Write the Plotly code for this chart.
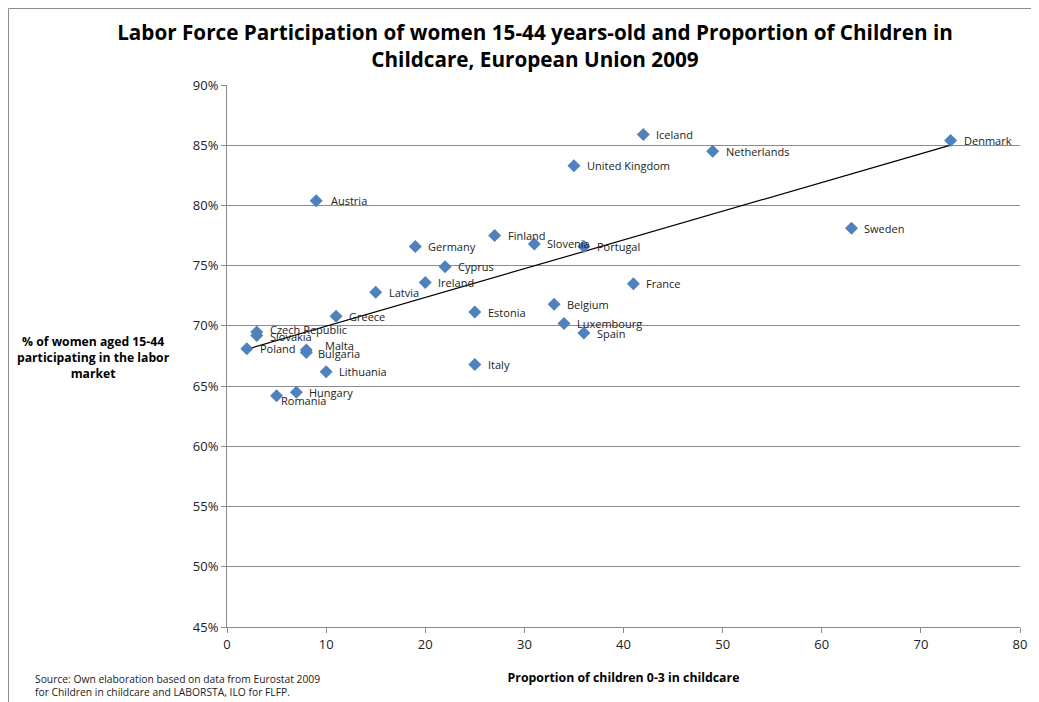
import numpy as np
import plotly.graph_objects as go

countries = ["Denmark", "Iceland", "Netherlands", "United Kingdom", "Austria", "Sweden",
             "Finland", "Germany", "Slovenia", "Portugal", "Cyprus", "Ireland", "France",
             "Latvia", "Belgium", "Estonia", "Greece", "Luxembourg", "Czech Republic",
             "Slovakia", "Spain", "Poland", "Malta", "Bulgaria", "Italy", "Lithuania",
             "Hungary", "Romania"]
childcare = [73, 42, 49, 35, 9, 63, 27, 19, 31, 36, 22, 20, 41, 15, 33, 25, 11, 34, 3, 3, 36,
             2, 8, 8, 25, 10, 7, 5]
lfp = [85.4, 85.9, 84.5, 83.3, 80.4, 78.1, 77.5, 76.6, 76.8, 76.6, 74.9, 73.6, 73.5, 72.8,
       71.8, 71.15, 70.8, 70.2, 69.5, 69.2, 69.4, 68.1, 68.0, 67.8, 66.8, 66.2, 64.5, 64.2]

y_ticks = [45, 50, 55, 60, 65, 70, 75, 80, 85, 90]
x_ticks = [0, 10, 20, 30, 40, 50, 60, 70, 80]

# label offsets (px) as style
label_shift = {"Malta": (19, 4), "Bulgaria": (12, -1), "Czech Republic": (13, 2),
               "Slovakia": (13, -1), "Romania": (4, -5), "Austria": (15, 0)}

OFF = 8  # page body margin
W, H = 1039, 702
# target plot area on screen: x 227..1020, y 85..627
L = 227 - OFF
T = 85 - OFF
R = W - (1020 - OFF)
B = H - (627 - OFF)
PW = W - L - R
PH = H - T - B
FONT = "Open Sans"


def px(p):
    return (p - OFF - L) / PW


def py(p):
    return (H - B - (p - OFF)) / PH


fig = go.Figure()

# trendline (linear least squares over the data)
xa = np.array(childcare, dtype=float)
ya = np.array(lfp, dtype=float)
slope, intercept = np.polyfit(xa, ya, 1)
xt = np.array([xa.min(), xa.max()])
fig.add_trace(go.Scatter(x=xt, y=slope * xt + intercept, mode="lines",
                         line=dict(color="black", width=1.2), hoverinfo="skip",
                         showlegend=False))

fig.add_trace(go.Scatter(x=childcare, y=lfp, mode="markers", text=countries,
                         marker=dict(symbol="diamond", size=10, color="#4F81BD",
                                     line=dict(width=0)),
                         showlegend=False))

for name, xv, yv in zip(countries, childcare, lfp):
    dx, dy = label_shift.get(name, (13, 0))
    fig.add_annotation(x=xv, y=yv, text=name, showarrow=False, xanchor="left",
                       yanchor="middle", xshift=dx - 2, yshift=dy,
                       font=dict(family=FONT, size=11, color="#222"))

# y axis title
fig.add_annotation(xref="paper", yref="paper", x=px(93), y=py(357),
                   xanchor="center", yanchor="middle",
                   text="% of women aged 15-44<br>participating in the labor<br>market",
                   showarrow=False, align="center",
                   font=dict(family=FONT, size=12.2, color="black", weight="bold"))

# source note
fig.add_annotation(xref="paper", yref="paper", x=px(33), y=py(685),
                   xanchor="left", yanchor="middle",
                   text="Source: Own elaboration based on data from Eurostat 2009<br>"
                        "for Children in childcare and LABORSTA, ILO for FLFP.",
                   showarrow=False, align="left",
                   font=dict(family=FONT, size=10.3, color="#222"))

# chart border (left and top edges)
fig.add_shape(type="line", xref="paper", yref="paper", x0=px(8.5), x1=px(8.5),
              y0=py(8.5), y1=py(730), line=dict(color="#8c8c8c", width=1))
fig.add_shape(type="line", xref="paper", yref="paper", x0=px(8.5), x1=px(1070),
              y0=py(8.5), y1=py(8.5), line=dict(color="#8c8c8c", width=1))

fig.update_layout(
    width=W, height=H,
    margin=dict(l=L, r=R, t=T, b=B),
    paper_bgcolor="white", plot_bgcolor="white",
    font=dict(family=FONT, color="#222"),
    title=dict(text="Labor Force Participation of women 15-44 years-old and Proportion of Children in<br>"
                    "Childcare, European Union 2009",
               x=(535 - OFF) / W, xanchor="center", y=1 - (40 - OFF) / H, yanchor="middle",
               font=dict(family=FONT, size=20.7, color="black", weight="bold")),
    xaxis=dict(range=[0, 80], tickvals=x_ticks, showgrid=False, zeroline=False,
               showline=True, linecolor="#8c8c8c", linewidth=1, ticks="outside",
               ticklen=5, tickcolor="#8c8c8c", tickfont=dict(size=13, color="#222"),
               title=dict(text="Proportion of children 0-3 in childcare", standoff=21,
                          font=dict(size=12.3, color="black", weight="bold"))),
    yaxis=dict(range=[45, 90], tickvals=y_ticks, ticktext=[f"{v}%" for v in y_ticks],
               showgrid=True, gridcolor="#8c8c8c", gridwidth=1, zeroline=False,
               showline=True, linecolor="#8c8c8c", linewidth=1, ticks="outside",
               ticklen=5, tickcolor="#8c8c8c", tickfont=dict(size=13, color="#222")),
)

fig.write_html("out.html")
